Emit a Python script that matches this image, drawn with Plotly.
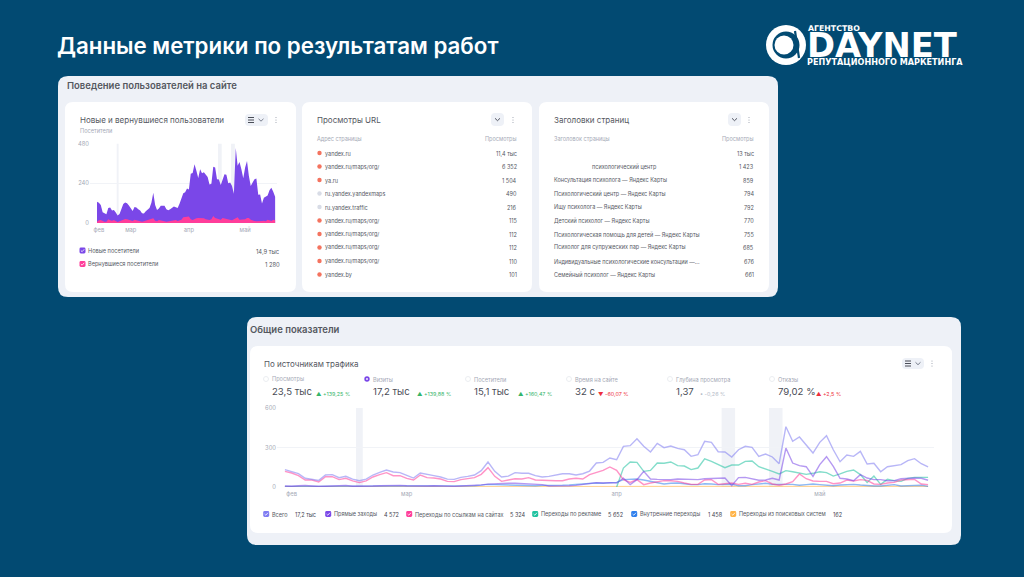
import pandas as pd
import plotly.graph_objects as go

W, H = 1024, 577
NAVY = "#024a72"
PANEL = "#eef1f7"
INK = "#55585f"
MUTED = "#a5a9b6"
FONT = "Inter"

# --- dates shared by both time series ---
dates = pd.date_range("2024-02-12", periods=96, freq="D")
tick_dates = ["2024-02-13", "2024-03-01", "2024-04-01", "2024-05-01"]
tick_names = ["фев", "мар", "апр", "май"]
highlight_periods = [
    ("2024-02-22 12:00", "2024-02-23 12:00"),
    ("2024-04-16 12:00", "2024-04-18 12:00"),
    ("2024-04-23 12:00", "2024-04-25 12:00"),
]

# --- visitors, stacked outline and the returning share ---
visitors_outline = [
    128, 122, 108, 65, 59, 53, 91, 93, 75, 79, 63, 45, 55, 87, 114, 124, 120, 106, 87, 73,
    97, 93, 83, 75, 59, 57, 71, 79, 91, 122, 183, 108, 79, 87, 104, 104, 104, 83, 77, 83,
    93, 99, 95, 91, 116, 142, 179, 185, 209, 203, 298, 302, 355, 315, 272, 325, 300, 307, 294, 278,
    233, 237, 339, 335, 264, 262, 229, 268, 294, 292, 240, 244, 223, 177, 453, 345, 369, 325, 270, 335,
    375, 284, 223, 244, 264, 268, 170, 172, 118, 152, 160, 166, 197, 213, 189, 158,
]
returning_visitors = [
    8, 16, 18, 12, 8, 8, 22, 16, 14, 18, 10, 6, 10, 14, 20, 24, 22, 18, 14, 12,
    20, 16, 12, 10, 8, 10, 14, 18, 18, 22, 28, 14, 10, 18, 14, 12, 10, 8, 10, 12,
    14, 16, 18, 12, 14, 20, 34, 34, 38, 40, 22, 18, 24, 28, 30, 30, 28, 28, 22, 20,
    18, 22, 42, 30, 26, 24, 20, 30, 28, 24, 20, 18, 16, 22, 26, 34, 20, 20, 18, 22,
    30, 30, 20, 14, 12, 10, 10, 8, 12, 14, 10, 20, 16, 12, 20, 16,
]

# --- visits by traffic source ---
visits_total = [
    132, 119, 101, 66, 60, 50, 91, 94, 71, 81, 60, 48, 60, 91, 111, 129, 114, 109, 89, 68,
    106, 94, 86, 76, 60, 58, 73, 81, 91, 124, 190, 119, 76, 83, 109, 104, 104, 86, 76, 81,
    89, 101, 101, 91, 101, 121, 182, 187, 220, 207, 309, 314, 367, 309, 266, 331, 299, 311, 293, 283,
    233, 245, 347, 339, 268, 266, 228, 283, 309, 301, 233, 250, 228, 177, 458, 347, 380, 321, 258, 339,
    390, 283, 192, 243, 233, 271, 175, 180, 116, 154, 162, 170, 200, 215, 177, 152,
]
visits_direct = [
    8, 6, 10, 12, 8, 4, 6, 8, 10, 12, 6, 5, 6, 8, 10, 12, 14, 12, 10, 8,
    6, 8, 10, 8, 6, 5, 8, 10, 12, 16, 22, 25, 28, 28, 28, 25, 20, 20, 18, 8,
    8, 6, 10, 12, 20, 25, 33, 30, 33, 30, 68, 18, 56, 119, 61, 58, 56, 56, 61, 61,
    56, 56, 63, 63, 66, 68, 10, 71, 73, 61, 51, 53, 66, 53, 296, 182, 162, 154, 81, 170,
    230, 157, 66, 61, 48, 94, 68, 56, 56, 48, 48, 63, 66, 68, 66, 51,
]
visits_links = [
    119, 106, 86, 53, 53, 38, 78, 78, 56, 66, 46, 33, 46, 76, 94, 109, 86, 86, 66, 53,
    91, 71, 68, 61, 43, 41, 56, 61, 71, 96, 147, 81, 43, 53, 63, 61, 71, 53, 50, 50,
    48, 48, 61, 66, 61, 94, 111, 126, 152, 126, 56, 35, 56, 18, 30, 40, 48, 48, 43, 30,
    20, 20, 53, 56, 20, 25, 30, 20, 28, 20, 38, 48, 23, 13, 23, 40, 99, 63, 46, 43,
    43, 25, 30, 53, 46, 56, 50, 23, 20, 30, 35, 53, 58, 58, 23, 18,
]
# the advertising source only starts at the end of March
visits_ads = [None] * 49 + [
    0, 144, 190, 187, 119, 126, 182, 180, 190, 162, 159, 132, 144, 213, 195, 170, 147, 167, 167, 195, 197,
    154, 139, 119, 99, 124, 116, 104, 96, 104, 116, 109, 83, 99, 119, 129, 94, 35, 83, 20, 58,
    48, 43, 66, 73, 73, 73,
]
visits_internal = [
    5, 5, 6, 8, 6, 5, 6, 8, 10, 8, 6, 5, 6, 8, 10, 8, 6, 8, 6, 5,
    6, 6, 8, 6, 5, 6, 6, 8, 10, 14, 20, 18, 16, 14, 12, 10, 10, 10, 12, 12,
    10, 14, 16, 20, 22, 25, 30, 28, 30, 35, 56, 58, 61, 53, 43, 30, 23, 28, 30, 25,
    18, 18, 25, 23, 18, 20, 23, 10, 10, 18, 25, 28, 20, 18, 20, 20, 13, 18, 23, 18,
    13, 10, 15, 20, 20, 15, 10, 8, 8, 13, 18, 8, 8, 13, 13, 5,
]
visits_search = [
    2, 2, 3, 2, 3, 2, 3, 2, 2, 3, 2, 2, 3, 2, 3, 3, 2, 3, 2, 2,
    3, 2, 3, 2, 2, 3, 3, 2, 3, 4, 3, 3, 2, 3, 3, 2, 3, 3, 2, 3,
    2, 3, 3, 2, 3, 4, 4, 3, 3, 4, 5, 4, 3, 4, 5, 3, 4, 3, 4, 5,
    4, 3, 4, 4, 3, 4, 3, 4, 3, 5, 4, 3, 4, 5, 3, 4, 3, 4, 5, 4,
    3, 4, 3, 4, 5, 4, 3, 4, 5, 4, 3, 4, 3, 4, 5, 4,
]

# --- tables ---
url_names = ["yandex.ru", "yandex.ru/maps/org/", "ya.ru", "ru.yandex.yandexmaps", "ru.yandex.traffic",
             "yandex.ru/maps/org/", "yandex.ru/maps/org/", "yandex.ru/maps/org/", "yandex.ru/maps/org/", "yandex.by"]
url_views = ["11,4 тыс", "6 352", "1 504", "490", "216", "115", "112", "112", "110", "101"]
url_dot_colors = ["#f4735f", "#f4735f", "#f4735f", "#d8dce6", "#d8dce6",
                  "#f4735f", "#f4735f", "#f4735f", "#f4735f", "#f4735f"]
title_names = ["", "психологический центр", "Консультация психолога — Яндекс Карты",
               "Психологический центр — Яндекс Карты", "Ищу психолога — Яндекс Карты",
               "Детский психолог — Яндекс Карты", "Психологическая помощь для детей — Яндекс Карты",
               "Психолог для супружеских пар — Яндекс Карты",
               "Индивидуальные психологические консультации —...", "Семейный психолог — Яндекс Карты"]
title_views = ["13 тыс", "1 423", "859", "794", "792", "770", "755", "685", "676", "661"]
row_lines = [153, 166.5, 180, 193.5, 207, 220.5, 234, 247.5, 261, 274.5]

# --- headline figures ---
kpi_names = ["Просмотры", "Визиты", "Посетители", "Время на сайте", "Глубина просмотра", "Отказы"]
kpi_values = ["23,5 тыс", "17,2 тыс", "15,1 тыс", "32 с", "1,37", "79,02 %"]
kpi_deltas = ["▲ +139,25 %", "▲ +139,88 %", "▲ +160,47 %", "▼ -60,07 %", "• -0,26 %", "▲ +2,5 %"]
kpi_delta_colors = ["#35b56a", "#35b56a", "#35b56a", "#ee2f3c", "#b3bac7", "#ee2f3c"]
kpi_left = [272, 373, 474, 575, 676, 778]
kpi_delta_left = [316, 417, 518, 598, 700, 816]

source_names = ["Всего", "Прямые заходы", "Переходы по ссылкам на сайтах", "Переходы по рекламе",
                "Внутренние переходы", "Переходы из поисковых систем"]
source_totals = ["17,2 тыс", "4 572", "5 324", "5 652", "1 458", "162"]
source_colors = ["#7f7cf2", "#7a47e8", "#ff3d9a", "#1fc2a0", "#2f80ed", "#ffb347"]
source_text_left = [272, 334, 415, 541, 640, 739]
source_total_left = [295, 384, 510, 608, 708, 833]


def X(p):
    return p / W


def Y(p):
    return 1 - p / H


def rounded(x0, y0, x1, y1, r, fill, layer="below"):
    a, b, c, d = X(x0), X(x1), Y(y0), Y(y1)
    rx, ry = r / W, r / H
    path = (f"M{a + rx},{c} L{b - rx},{c} Q{b},{c} {b},{c - ry} L{b},{d + ry} Q{b},{d} {b - rx},{d} "
            f"L{a + rx},{d} Q{a},{d} {a},{d + ry} L{a},{c - ry} Q{a},{c} {a + rx},{c} Z")
    return dict(type="path", path=path, xref="paper", yref="paper", fillcolor=fill,
                line=dict(width=0), layer=layer)


def circle(cx, cy, r, fill, line=None):
    return dict(type="circle", xref="paper", yref="paper", x0=X(cx - r), x1=X(cx + r),
                y0=Y(cy + r), y1=Y(cy - r), fillcolor=fill,
                line=dict(width=0.8 if line else 0, color=line or fill), layer="above")


def stroke(points, color, width=1.0):
    path = "M" + " L".join(f"{X(px)},{Y(py)}" for px, py in points)
    return dict(type="path", path=path, xref="paper", yref="paper",
                line=dict(color=color, width=width), layer="above")


def label(px, py, text, size=5.5, color=INK, anchor="left", family=FONT, weight=400):
    shift = -1 if anchor == "left" else 1
    return dict(xref="paper", yref="paper", x=X(px), y=Y(py + 0.5), text=text, showarrow=False,
                xanchor=anchor, yanchor="middle", xshift=shift, align=anchor, borderpad=0,
                font=dict(size=size, color=color, family=family, weight=weight))


def checkbox(cx, cy, color):
    return [rounded(cx - 3, cy - 3, cx + 3, cy + 3, 1.4, color, "above"),
            stroke([(cx - 1.6, cy), (cx - 0.4, cy + 1.2), (cx + 1.7, cy - 1.2)], "white", 0.8)]


def dots(cx, cy):
    return [circle(cx, cy + d, 0.6, "#9aa0ad") for d in (-2.5, 0, 2.5)]


def chevron(cx, cy, color="#6b7080", w=2.5):
    return stroke([(cx - w, cy - 1.2), (cx, cy + 1.2), (cx + w, cy - 1.2)], color, 0.9)


def bars_icon(cx, cy):
    return [stroke([(cx - 3, cy + d), (cx + 3, cy + d)], "#4a4d57", 1.0) for d in (-2.5, 0, 2.5)]


fig = go.Figure()

# Upper chart: visitors as two filled layers
fig.add_trace(go.Scatter(x=dates, y=visitors_outline, name="Новые посетители", mode="lines",
                         line=dict(width=0, color="#7a47e8"), fill="tozeroy", fillcolor="#7a47e8",
                         xaxis="x", yaxis="y", hoverinfo="skip"))
fig.add_trace(go.Scatter(x=dates, y=returning_visitors, name="Вернувшиеся посетители", mode="lines",
                         line=dict(width=0, color="#ff3d9a"), fill="tozeroy", fillcolor="#ff3d9a",
                         xaxis="x", yaxis="y", hoverinfo="skip"))

# Lower chart: one line per traffic source, the smallest sources underneath
source_series = [visits_total, visits_direct, visits_links, visits_ads, visits_internal, visits_search]
for name, values, color in reversed(list(zip(source_names, source_series, source_colors))):
    fig.add_trace(go.Scatter(x=dates, y=values, name=name, mode="lines", opacity=0.55,
                             line=dict(width=1.4, color=color), xaxis="x2", yaxis="y2", hoverinfo="skip"))

shapes = [
    rounded(58, 76, 778, 297, 10, PANEL),
    rounded(65, 102, 296, 292, 8, "white"),
    rounded(302, 102, 532, 292, 8, "white"),
    rounded(539, 102, 769, 292, 8, "white"),
    rounded(247, 317, 961, 545, 10, PANEL),
    rounded(250, 346, 952, 533, 8, "white"),
]
for start, end in highlight_periods:
    for xr, yr, top in (("x", "y", 480), ("x2", "y2", 600)):
        shapes.append(dict(type="rect", xref=xr, yref=yr, x0=start, x1=end, y0=0, y1=top,
                           fillcolor="#f0f2f7", line=dict(width=0), layer="below"))

notes = [
    label(57, 44.5, "Данные метрики по результатам работ", size=22.3, color="white", weight=600),
    label(67, 85, "Поведение пользователей на сайте", size=9.5, color=INK, weight=600),
    label(250, 328.5, "Общие показатели", size=9.5, color=INK, weight=600),
    # first card
    label(80, 119, "Новые и вернувшиеся пользователи", size=8.0),
    label(80, 130, "Посетители", size=5.6, color=MUTED),
    label(88, 250.5, "Новые посетители", size=5.6),
    label(88, 264, "Вернувшиеся посетители", size=5.6),
    label(280, 250.5, "14,9 тыс", size=5.8, anchor="right"),
    label(280, 264, "1 280", size=5.8, anchor="right"),
    # second and third cards
    label(317, 119.5, "Просмотры URL", size=8.0),
    label(317, 139, "Адрес страницы", size=5.5, color=MUTED),
    label(517, 139, "Просмотры", size=5.5, color=MUTED, anchor="right"),
    label(554, 119.5, "Заголовки страниц", size=8.0),
    label(554, 139, "Заголовок страницы", size=5.5, color=MUTED),
    label(754, 139, "Просмотры", size=5.5, color=MUTED, anchor="right"),
    # lower card
    label(264, 363.5, "По источникам трафика", size=8.0),
    # wordmark
    label(808, 28, "АГЕНТСТВО", size=7.8, color="white", family="DejaVu Sans", weight=700),
    label(807, 45, "DAYNET", size=33.8, color="white", family="DejaVu Sans", weight=700),
    label(807, 61.5, "РЕПУТАЦИОННОГО МАРКЕТИНГА", size=8.1, color="white", family="DejaVu Sans", weight=700),
]

for name, views, dot, py in zip(url_names, url_views, url_dot_colors, row_lines):
    shapes.append(circle(319.5, py, 2.2, dot))
    notes.append(label(325, py, name))
    notes.append(label(517, py, views, anchor="right"))
for name, views, py in zip(title_names, title_views, row_lines):
    notes.append(label(592 if name == "психологический центр" else 554, py, name))
    notes.append(label(754, py, views, anchor="right"))

for i, (name, value, delta, tint, left, dleft) in enumerate(
        zip(kpi_names, kpi_values, kpi_deltas, kpi_delta_colors, kpi_left, kpi_delta_left)):
    notes.append(label(left, 379, name, size=5.6, color=MUTED))
    notes.append(label(left, 391, value, size=9.6, color="#4a4d57"))
    notes.append(label(dleft, 393, delta, size=5.4, color=tint))
    if i == 1:
        shapes += [circle(left - 6, 379, 2.7, "#7a47e8"), circle(left - 6, 379, 0.9, "white")]
    else:
        shapes.append(circle(left - 6, 379, 2.5, "white", "#e6e8ee"))

for name, total, color, left, tleft in zip(source_names, source_totals, source_colors,
                                           source_text_left, source_total_left):
    shapes += checkbox(left - 5.8, 514, color)
    notes.append(label(left, 514, name, size=5.5))
    notes.append(label(tleft, 514, total, size=5.5, color="#3f4350"))

shapes += checkbox(82.5, 250.5, "#7a47e8") + checkbox(82.5, 264, "#ff3d9a")

# control buttons in card headers
shapes += [rounded(245, 114, 268, 126, 4, "#eef1f7", "above"), chevron(261, 120)] + bars_icon(251, 120) + dots(276, 120)
shapes += [rounded(491, 113, 504, 126, 4, "#eef1f7", "above"), chevron(497.5, 119.5, "#3f4350")] + dots(513, 120)
shapes += [rounded(728, 113, 741, 126, 4, "#eef1f7", "above"), chevron(734.5, 119.5, "#3f4350")] + dots(749, 120)
shapes += [rounded(902, 358, 924, 369, 4, "#eef1f7", "above"), chevron(918, 363.5)] + bars_icon(908, 363.5) + dots(932, 363.5)

# ring of the brand mark
shapes += [
    circle(786, 45, 20, "white"),
    circle(786, 45, 13.5, NAVY),
    circle(784, 45, 9.5, "white"),
    stroke([(795, 31), (799, 58)], NAVY, 2.2),
]

axis_common = dict(showline=False, zeroline=False, ticks="", color=MUTED, automargin=False,
                   tickfont=dict(size=5.8, color=MUTED))
x_common = dict(type="date", tickvals=tick_dates, ticktext=tick_names, showgrid=False,
                ticklabelstandoff=2, **axis_common)
y_common = dict(showgrid=True, gridcolor="#f1f3f7", gridwidth=1, **axis_common)
fig.update_layout(
    width=W, height=H, autosize=False,
    margin=dict(l=0, r=0, t=0, b=0),
    paper_bgcolor=NAVY, plot_bgcolor="rgba(0,0,0,0)",
    showlegend=False, shapes=shapes, annotations=notes,
    font=dict(family=FONT),
    xaxis=dict(domain=[X(90), X(277)], anchor="y",
               range=[dates[0] - pd.Timedelta(hours=90), dates[-1] + pd.Timedelta(hours=24)], **x_common),
    yaxis=dict(domain=[Y(223), Y(143.5)], anchor="x", range=[0, 480], tickvals=[0, 240, 480], **y_common),
    xaxis2=dict(domain=[X(277), X(934)], anchor="y2",
                range=[dates[0] - pd.Timedelta(hours=28), dates[-1] + pd.Timedelta(hours=21)], **x_common),
    yaxis2=dict(domain=[Y(487), Y(408)], anchor="x2", range=[0, 600], tickvals=[0, 300, 600], **y_common),
)

fig.write_html("out.html", config=dict(displayModeBar=False))
